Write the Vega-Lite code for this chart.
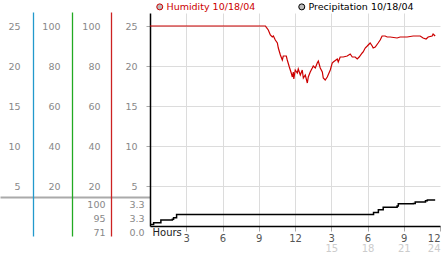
{
  "$schema": "https://vega.github.io/schema/vega-lite/v6.json",
  "width": 290,
  "height": 213,
  "autosize": {"type": "none"},
  "padding": {"left": 150, "top": 13, "right": 2, "bottom": 27},
  "config": {
    "font": "DejaVu Sans",
    "view": {"stroke": null},
    "axis": {"labelFontSize": 9.5, "labelColor": "#888888", "title": null, "labelFont": "DejaVu Sans"}
  },
  "datasets": {
    "hum": [
      {"h": 0, "pct": 100, "series": "Humidity 10/18/04"},
      {"h": 9.55, "pct": 100, "series": "Humidity 10/18/04"},
      {"h": 9.63, "pct": 99.3, "series": "Humidity 10/18/04"},
      {"h": 9.79, "pct": 98, "series": "Humidity 10/18/04"},
      {"h": 9.96, "pct": 95.5, "series": "Humidity 10/18/04"},
      {"h": 10.12, "pct": 94.5, "series": "Humidity 10/18/04"},
      {"h": 10.21, "pct": 95, "series": "Humidity 10/18/04"},
      {"h": 10.37, "pct": 93, "series": "Humidity 10/18/04"},
      {"h": 10.54, "pct": 91.5, "series": "Humidity 10/18/04"},
      {"h": 10.62, "pct": 89, "series": "Humidity 10/18/04"},
      {"h": 10.79, "pct": 85.5, "series": "Humidity 10/18/04"},
      {"h": 10.95, "pct": 83, "series": "Humidity 10/18/04"},
      {"h": 11.03, "pct": 85, "series": "Humidity 10/18/04"},
      {"h": 11.28, "pct": 85, "series": "Humidity 10/18/04"},
      {"h": 11.36, "pct": 83, "series": "Humidity 10/18/04"},
      {"h": 11.53, "pct": 79.5, "series": "Humidity 10/18/04"},
      {"h": 11.69, "pct": 76.5, "series": "Humidity 10/18/04"},
      {"h": 11.78, "pct": 74.5, "series": "Humidity 10/18/04"},
      {"h": 11.86, "pct": 77, "series": "Humidity 10/18/04"},
      {"h": 11.9, "pct": 73.5, "series": "Humidity 10/18/04"},
      {"h": 12.02, "pct": 78, "series": "Humidity 10/18/04"},
      {"h": 12.19, "pct": 76.5, "series": "Humidity 10/18/04"},
      {"h": 12.27, "pct": 78.5, "series": "Humidity 10/18/04"},
      {"h": 12.44, "pct": 75.5, "series": "Humidity 10/18/04"},
      {"h": 12.6, "pct": 78, "series": "Humidity 10/18/04"},
      {"h": 12.69, "pct": 74, "series": "Humidity 10/18/04"},
      {"h": 12.85, "pct": 75.5, "series": "Humidity 10/18/04"},
      {"h": 13.02, "pct": 71.5, "series": "Humidity 10/18/04"},
      {"h": 13.1, "pct": 74.5, "series": "Humidity 10/18/04"},
      {"h": 13.26, "pct": 77, "series": "Humidity 10/18/04"},
      {"h": 13.43, "pct": 79, "series": "Humidity 10/18/04"},
      {"h": 13.51, "pct": 80, "series": "Humidity 10/18/04"},
      {"h": 13.68, "pct": 79, "series": "Humidity 10/18/04"},
      {"h": 13.84, "pct": 81.5, "series": "Humidity 10/18/04"},
      {"h": 13.93, "pct": 82.5, "series": "Humidity 10/18/04"},
      {"h": 14.09, "pct": 79, "series": "Humidity 10/18/04"},
      {"h": 14.26, "pct": 77, "series": "Humidity 10/18/04"},
      {"h": 14.34, "pct": 74, "series": "Humidity 10/18/04"},
      {"h": 14.5, "pct": 73, "series": "Humidity 10/18/04"},
      {"h": 14.67, "pct": 74.5, "series": "Humidity 10/18/04"},
      {"h": 14.92, "pct": 78, "series": "Humidity 10/18/04"},
      {"h": 15.08, "pct": 81.5, "series": "Humidity 10/18/04"},
      {"h": 15.17, "pct": 82, "series": "Humidity 10/18/04"},
      {"h": 15.5, "pct": 83.5, "series": "Humidity 10/18/04"},
      {"h": 15.58, "pct": 82, "series": "Humidity 10/18/04"},
      {"h": 15.74, "pct": 84.5, "series": "Humidity 10/18/04"},
      {"h": 15.99, "pct": 84.5, "series": "Humidity 10/18/04"},
      {"h": 16.32, "pct": 85, "series": "Humidity 10/18/04"},
      {"h": 16.57, "pct": 86, "series": "Humidity 10/18/04"},
      {"h": 16.74, "pct": 84.5, "series": "Humidity 10/18/04"},
      {"h": 16.98, "pct": 84.5, "series": "Humidity 10/18/04"},
      {"h": 17.15, "pct": 83.5, "series": "Humidity 10/18/04"},
      {"h": 17.31, "pct": 84.5, "series": "Humidity 10/18/04"},
      {"h": 17.56, "pct": 86.5, "series": "Humidity 10/18/04"},
      {"h": 17.64, "pct": 87, "series": "Humidity 10/18/04"},
      {"h": 17.81, "pct": 89, "series": "Humidity 10/18/04"},
      {"h": 17.98, "pct": 90, "series": "Humidity 10/18/04"},
      {"h": 18.06, "pct": 90.5, "series": "Humidity 10/18/04"},
      {"h": 18.22, "pct": 91.5, "series": "Humidity 10/18/04"},
      {"h": 18.39, "pct": 90, "series": "Humidity 10/18/04"},
      {"h": 18.47, "pct": 89, "series": "Humidity 10/18/04"},
      {"h": 18.64, "pct": 89.5, "series": "Humidity 10/18/04"},
      {"h": 18.88, "pct": 91.5, "series": "Humidity 10/18/04"},
      {"h": 19.05, "pct": 93, "series": "Humidity 10/18/04"},
      {"h": 19.21, "pct": 95, "series": "Humidity 10/18/04"},
      {"h": 19.46, "pct": 95, "series": "Humidity 10/18/04"},
      {"h": 19.63, "pct": 94.5, "series": "Humidity 10/18/04"},
      {"h": 19.88, "pct": 94.5, "series": "Humidity 10/18/04"},
      {"h": 20.45, "pct": 94, "series": "Humidity 10/18/04"},
      {"h": 20.7, "pct": 94.5, "series": "Humidity 10/18/04"},
      {"h": 21.28, "pct": 94.5, "series": "Humidity 10/18/04"},
      {"h": 21.78, "pct": 95, "series": "Humidity 10/18/04"},
      {"h": 22.36, "pct": 95, "series": "Humidity 10/18/04"},
      {"h": 22.6, "pct": 94, "series": "Humidity 10/18/04"},
      {"h": 22.85, "pct": 93.5, "series": "Humidity 10/18/04"},
      {"h": 23.02, "pct": 94.5, "series": "Humidity 10/18/04"},
      {"h": 23.35, "pct": 95, "series": "Humidity 10/18/04"},
      {"h": 23.43, "pct": 96, "series": "Humidity 10/18/04"},
      {"h": 23.6, "pct": 95, "series": "Humidity 10/18/04"}
    ],
    "pre": [
      {"h": 0, "p": 0.05, "series": "Precipitation 10/18/04"},
      {"h": 0.3, "p": 0.3, "series": "Precipitation 10/18/04"},
      {"h": 0.9, "p": 0.65, "series": "Precipitation 10/18/04"},
      {"h": 1.85, "p": 0.75, "series": "Precipitation 10/18/04"},
      {"h": 1.95, "p": 0.95, "series": "Precipitation 10/18/04"},
      {"h": 2.2, "p": 1.4, "series": "Precipitation 10/18/04"},
      {"h": 18.35, "p": 1.4, "series": "Precipitation 10/18/04"},
      {"h": 18.5, "p": 1.65, "series": "Precipitation 10/18/04"},
      {"h": 18.9, "p": 2.0, "series": "Precipitation 10/18/04"},
      {"h": 19.3, "p": 2.35, "series": "Precipitation 10/18/04"},
      {"h": 20.45, "p": 2.5, "series": "Precipitation 10/18/04"},
      {"h": 20.55, "p": 2.8, "series": "Precipitation 10/18/04"},
      {"h": 21.8, "p": 2.85, "series": "Precipitation 10/18/04"},
      {"h": 21.95, "p": 3.05, "series": "Precipitation 10/18/04"},
      {"h": 22.8, "p": 3.2, "series": "Precipitation 10/18/04"},
      {"h": 22.95, "p": 3.3, "series": "Precipitation 10/18/04"},
      {"h": 23.6, "p": 3.3, "series": "Precipitation 10/18/04"}
    ]
  },
  "resolve": {
    "scale": {"y": "independent", "x": "shared"},
    "axis": {"x": "independent", "y": "independent"}
  },
  "layer": [
    {
      "data": {"name": "hum"},
      "mark": {"type": "point", "opacity": 0},
      "encoding": {
        "y": {"field": "pct", "type": "quantitative", "scale": {"domain": [0, 106.5], "nice": false, "zero": false},
          "axis": {"orient": "left", "offset": 0, "values": [14.5], "labels": false, "domain": false, "grid": false, "ticks": true, "tickSize": 150, "tickWidth": 2, "tickColor": "#aaaaaa"}}
      }
    },
    {
      "data": {"name": "hum"},
      "mark": {"type": "line", "strokeWidth": 1.2},
      "encoding": {
        "x": {"field": "h", "type": "quantitative", "scale": {"domain": [0, 24], "nice": false, "zero": false},
          "axis": {"orient": "bottom", "values": [3, 6, 9, 12, 15, 18, 21, 24],
            "labelExpr": "datum.value % 12 == 0 ? '12' : '' + (datum.value % 12)",
            "grid": true, "gridColor": {"condition": {"test": "datum.value == 24", "value": "transparent"}, "value": "#dcdcdc"},
            "domainColor": "#000000", "domainWidth": 1.5,
            "tickColor": "#aaaaaa", "tickSize": 5, "labelPadding": 2, "labelColor": "#555555", "labelFontSize": 10,
            "title": "Hours", "titleX": 2, "titleY": 6, "titleAlign": "left", "titleBaseline": "middle", "titleAnchor": null,
            "titleFontWeight": "normal", "titleFontSize": 10, "titleColor": "#222222", "titleAngle": 0}},
        "y": {"field": "pct", "type": "quantitative", "scale": {"domain": [0, 106.5], "nice": false, "zero": false},
          "axis": {"orient": "left", "offset": 0, "values": [20, 40, 60, 80, 100], "labelExpr": "'' + (datum.value / 4)",
            "grid": true, "gridColor": "#dcdcdc", "domainColor": "#000000", "domainWidth": 1.5,
            "tickColor": "#aaaaaa", "tickSize": 4, "labelPadding": 9, "labelColor": "#888888"}},
        "color": {"field": "series", "type": "nominal",
          "scale": {"domain": ["Humidity 10/18/04", "Precipitation 10/18/04"], "range": ["#cc0000", "#000000"]},
          "legend": {"orient": "none", "legendX": 5, "legendY": -11, "direction": "horizontal", "columns": 2,
            "title": null, "symbolType": "circle", "symbolSize": 36, "labelFontSize": 9.5, "labelOffset": 2,
            "columnPadding": 40, "padding": 0, "offset": 0, "labelFont": "DejaVu Sans",
            "encode": {
              "symbols": {"update": {"fill": {"value": "#bbbbbb"}, "stroke": {"value": "#999999"}, "strokeWidth": {"value": 1}, "opacity": {"value": 1}}},
              "labels": {"update": {"fill": {"signal": "datum.label == 'Humidity 10/18/04' ? '#cc0000' : '#000000'"}}}
            }}}
      }
    },
    {
      "data": {"name": "pre"},
      "mark": {"type": "line", "strokeWidth": 1.5, "interpolate": "step-after"},
      "encoding": {
        "x": {"field": "h", "type": "quantitative", "scale": {"domain": [0, 24], "nice": false, "zero": false}, "axis": null},
        "y": {"field": "p", "type": "quantitative", "scale": {"domain": [0, 3.3], "range": [212, 187], "nice": false, "zero": false}, "axis": null},
        "color": {"field": "series", "type": "nominal"}
      }
    },
    {
      "data": {"name": "hum"},
      "mark": {"type": "point", "opacity": 0},
      "encoding": {
        "y": {"field": "pct", "type": "quantitative", "scale": {"domain": [-5, 107], "range": [223, -1], "nice": false, "zero": false},
          "axis": {"orient": "left", "offset": 39, "values": [20, 40, 60, 80, 100], "grid": false, "ticks": false, "tickSize": 0,
            "domainColor": "#cc2222", "domainWidth": 1.3, "labelPadding": 11}}
      }
    },
    {
      "data": {"name": "hum"},
      "mark": {"type": "point", "opacity": 0},
      "encoding": {
        "y": {"field": "pct", "type": "quantitative", "scale": {"domain": [-5, 107], "range": [223, -1], "nice": false, "zero": false},
          "axis": {"orient": "left", "offset": 39, "values": [-3, 4, 11], "labelExpr": "datum.value == 11 ? '100' : datum.value == 4 ? '95' : '71'",
            "grid": false, "ticks": false, "tickSize": 0, "domain": false, "labelPadding": 6}}
      }
    },
    {
      "data": {"name": "hum"},
      "mark": {"type": "point", "opacity": 0},
      "encoding": {
        "y": {"field": "pct", "type": "quantitative", "scale": {"domain": [-5, 107], "range": [223, -1], "nice": false, "zero": false},
          "axis": {"orient": "left", "offset": 0, "values": [-3, 4, 11], "labelExpr": "datum.value == -3 ? '0.0' : '3.3'",
            "grid": false, "ticks": false, "tickSize": 0, "domain": false, "labelPadding": 6}}
      }
    },
    {
      "data": {"name": "hum"},
      "mark": {"type": "point", "opacity": 0},
      "encoding": {
        "y": {"field": "pct", "type": "quantitative", "scale": {"domain": [-5, 107], "range": [223, -1], "nice": false, "zero": false},
          "axis": {"orient": "left", "offset": 78, "values": [20, 40, 60, 80, 100], "grid": false, "ticks": false, "tickSize": 0,
            "domainColor": "#22aa22", "domainWidth": 1.3, "labelPadding": 12}}
      }
    },
    {
      "data": {"name": "hum"},
      "mark": {"type": "point", "opacity": 0},
      "encoding": {
        "y": {"field": "pct", "type": "quantitative", "scale": {"domain": [-5, 107], "range": [223, -1], "nice": false, "zero": false},
          "axis": {"orient": "left", "offset": 117, "values": [20, 40, 60, 80, 100], "labelExpr": "'' + (datum.value / 4)",
            "grid": false, "ticks": false, "tickSize": 0, "domainColor": "#2299cc", "domainWidth": 1.3, "labelPadding": 13}}
      }
    },
    {
      "data": {"name": "hum"},
      "mark": {"type": "point", "opacity": 0},
      "encoding": {
        "x": {"field": "h", "type": "quantitative", "scale": {"domain": [0, 24], "nice": false, "zero": false},
          "axis": {"orient": "bottom", "values": [15, 18, 21, 24], "grid": false, "ticks": false, "tickSize": 0, "domain": false,
            "labelPadding": 17, "labelColor": "#cccccc", "labelFontSize": 10}}
      }
    }
  ]
}
